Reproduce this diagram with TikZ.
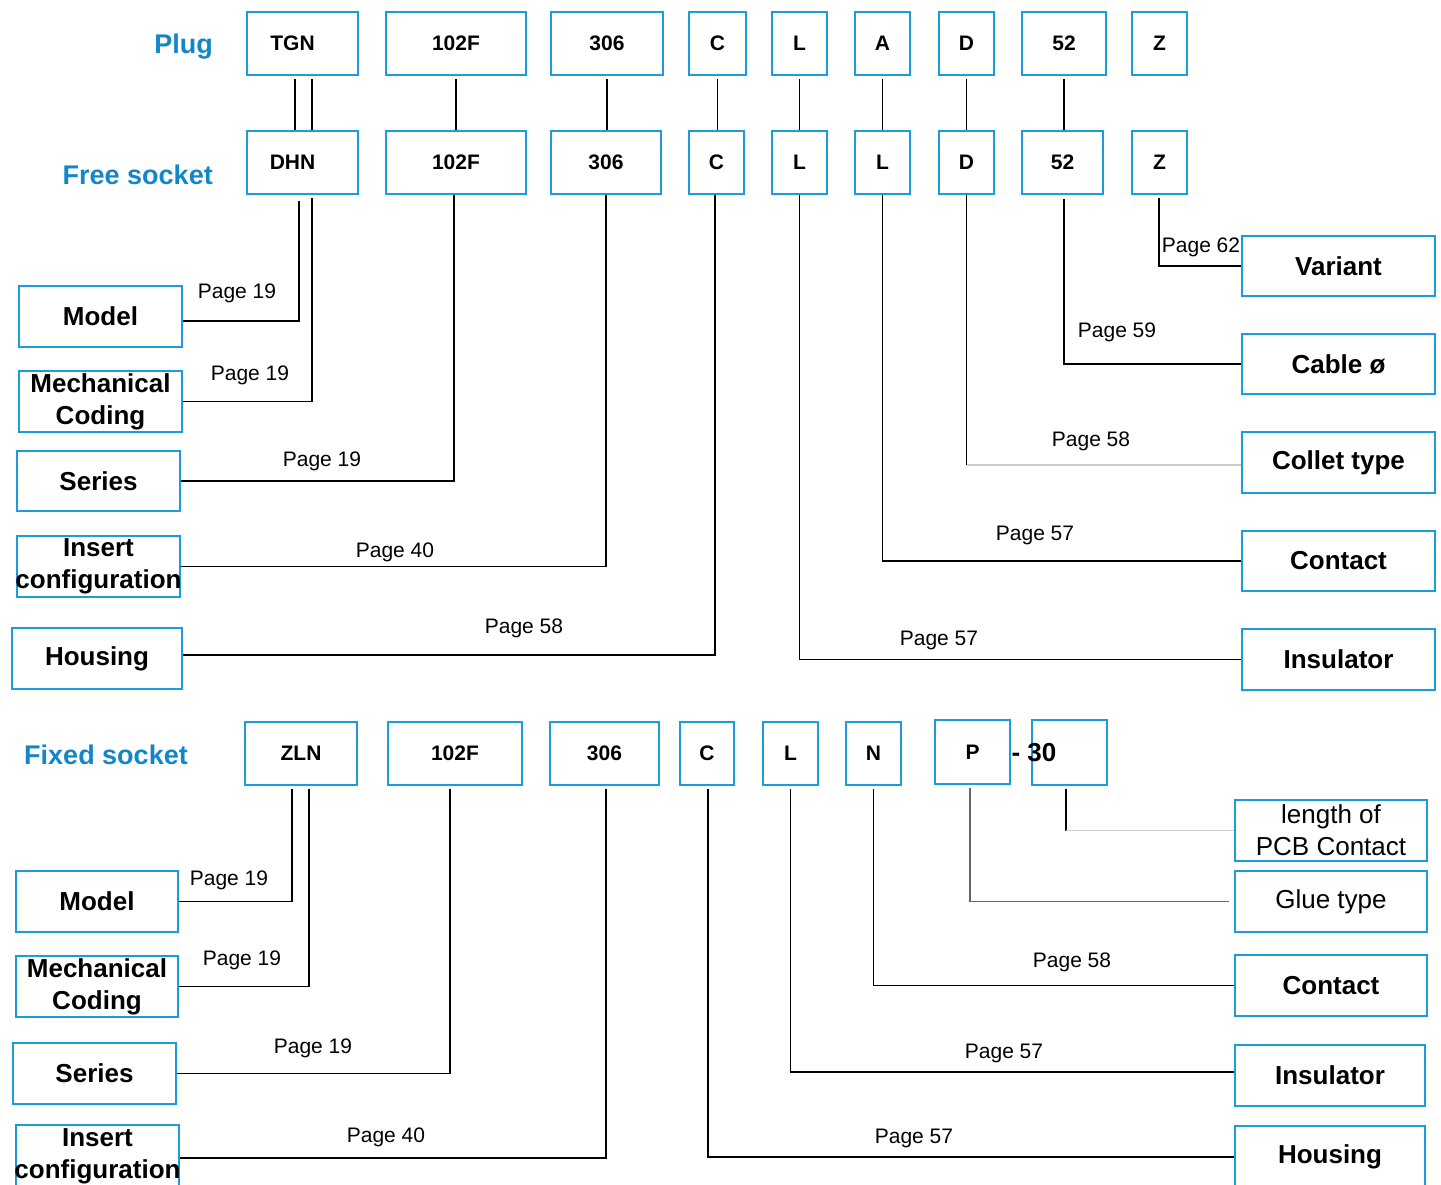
\documentclass[tikz,border=0pt]{standalone}
\usepackage{fontspec}
\setmainfont{Liberation Sans}
\definecolor{boxblue}{RGB}{30,155,224}
\definecolor{labelblue}{RGB}{18,134,200}
\begin{document}
\begin{tikzpicture}[x=1pt, y=-1pt,
    codebox/.style={draw=boxblue, line width=2pt, inner sep=0pt, font=\bfseries\fontsize{21}{25}\selectfont},
    namebox/.style={draw=boxblue, line width=1.6pt, inner sep=0pt, align=center, font=\bfseries\fontsize{26}{32}\selectfont},
    thinbox/.style={namebox, font=\fontsize{26}{32}\selectfont},
    rowlabel/.style={anchor=east, inner sep=0pt, text=labelblue, font=\bfseries\fontsize{27}{32}\selectfont},
    page/.style={inner sep=0pt, font=\fontsize{21}{25}\selectfont},
    link/.style={line width=1.3pt},
    faint/.style={line width=1.6pt, black!20},
    greyline/.style={line width=1.3pt, black!60}]
\useasboundingbox (0,0) rectangle (1441,1184);
\clip (0,0) rectangle (1441,1184);

% row titles
\node[rowlabel] (plug) at (213,47) {Plug};
\node[rowlabel] (free) at (213,175) {Free socket};
\node[rowlabel] (fixed) at (188,755) {Fixed socket};

% code boxes, one row each
\foreach \nm/\xa/\xb/\txt in {TGN/247/358/{\hspace*{-20pt}TGN}, 102F/386/526/102F, 306/551/663/306, C/689/746/C, L/772/827/L,
    A/855/910/A, D/939/994/D, 52/1022/1106/52, Z/1132/1187/Z}
  \node[codebox, minimum width={\xb-\xa}, minimum height=63] (p\nm) at ({(\xa+\xb)/2},43.5) {\txt};
\foreach \nm/\xa/\xb/\txt in {DHN/247/358/{\hspace*{-20pt}DHN}, 102F/386/526/102F, 306/551/661/306, C/689/744/C, L/772/827/L,
    LL/855/910/L, D/939/994/D, 52/1022/1103/52, Z/1132/1187/Z}
  \node[codebox, minimum width={\xb-\xa}, minimum height=63] (f\nm) at ({(\xa+\xb)/2},162.5) {\txt};
\foreach \nm/\xa/\xb/\txt in {ZLN/245/357/ZLN, 102F/388/522/102F, 306/550/659/306, C/680/734/C, L/763/818/L,
    N/846/901/N}
  \node[codebox, minimum width={\xb-\xa}, minimum height=63] (x\nm) at ({(\xa+\xb)/2},753.5) {\txt};
\node[codebox, minimum width=75, minimum height=64] (xP) at (972.5,752) {P};
\node[codebox, minimum width=75, minimum height=65] (x30) at (1069.5,752.5) {};
\node[inner sep=0pt, font=\bfseries\fontsize{26}{30}\selectfont] (t30) at (1034,753) {- 30};

% description boxes
\node[namebox, minimum width=163, minimum height=61] (lModel) at (100.5,316.5) {Model};
\node[namebox, minimum width=163, minimum height=61] (lMech) at (100.5,401.5) {Mechanical\\Coding};
\node[namebox, minimum width=163, minimum height=60] (lSeries) at (98.5,481) {Series};
\node[namebox, minimum width=163, minimum height=61] (lInsert) at (98.5,566.5) {Insert\\\makebox[0pt]{configuration}};
\node[namebox, minimum width=170, minimum height=61] (lHousing) at (97,658.5) {Housing};

\node[namebox, minimum width=193, minimum height=60] (rVariant) at (1338.5,266) {Variant};
\node[namebox, minimum width=193, minimum height=60] (rCable) at (1338.5,364) {Cable ø};
\node[namebox, minimum width=193, minimum height=61] (rCollet) at (1338.5,462.5) {Collet type};
\node[namebox, minimum width=193, minimum height=60] (rContact) at (1338.5,561) {Contact};
\node[namebox, minimum width=193, minimum height=61] (rInsulator) at (1338.5,659.5) {Insulator};

\node[namebox, minimum width=162, minimum height=61] (bModel) at (97,901.5) {Model};
\node[namebox, minimum width=162, minimum height=61] (bMech) at (97,986.5) {Mechanical\\Coding};
\node[namebox, minimum width=163, minimum height=61] (bSeries) at (94.5,1073.5) {Series};
\node[namebox, minimum width=163, minimum height=63] (bInsert) at (97.5,1156.5) {Insert\\\makebox[0pt]{configuration}};

\node[thinbox, minimum width=192, minimum height=61] (sLength) at (1331,830.5) {length of\\PCB Contact};
\node[thinbox, minimum width=192, minimum height=61] (sGlue) at (1331,901.5) {Glue type};
\node[namebox, minimum width=192, minimum height=61] (sContact) at (1331,985.5) {Contact};
\node[namebox, minimum width=190, minimum height=61] (sInsulator) at (1330,1075.5) {Insulator};
\node[namebox, minimum width=190, minimum height=62] (sHousing) at (1330,1157) {Housing};

% plug to free socket
\draw[link] ([xshift=-7.5pt,yshift=-3pt]pTGN.south) -- ([xshift=-7.5pt]pTGN.south |- fDHN.north);
\draw[link] ([xshift=9.5pt,yshift=-3pt]pTGN.south) -- ([xshift=9.5pt]pTGN.south |- fDHN.north);
\foreach \a/\b in {102F/102F, 306/306, C/C, L/L, A/LL, D/D, 52/52}
  \draw[link] ([yshift=-3pt]p\a.south) -- (p\a.south |- f\b.north);

% free socket to descriptions
\draw[link] ([xshift=-3.5pt,yshift=-6pt]fDHN.south) |- ([yshift=-4.5pt]lModel.east);
\draw[link] ([xshift=9.5pt,yshift=-3pt]fDHN.south) |- (lMech.east);
\draw[link] ([xshift=-2pt]f102F.south) |- (lSeries.east);
\draw[link] (f306.south) |- (lInsert.east);
\draw[link] ([xshift=-1.5pt]fC.south) |- ([yshift=3.5pt]lHousing.east);
\draw[link] (fL.south) |- (rInsulator.west);
\draw[link] (fLL.south) |- (rContact.west);
\draw[link] (fD.south) -- ([yshift=-2.5pt]fD.south |- rCollet.west) coordinate (kD);
\draw[faint] (kD) -- ([yshift=-2.5pt]rCollet.west);
\draw[link] ([xshift=1.5pt,yshift=-4pt]f52.south) |- (rCable.west);
\draw[link] ([xshift=-0.5pt,yshift=-3pt]fZ.south) |- (rVariant.west);

% fixed socket to descriptions
\draw[link] ([xshift=-9pt,yshift=-3pt]xZLN.south) |- (bModel.east);
\draw[link] ([xshift=8pt,yshift=-3pt]xZLN.south) |- (bMech.east);
\draw[link] ([xshift=-5pt,yshift=-3pt]x102F.south) |- (bSeries.east);
\draw[link] ([xshift=1.5pt,yshift=-3pt]x306.south) |- ([yshift=-1.5pt]bInsert.east);
\draw[link] ([xshift=1pt,yshift=-3pt]xC.south) |- (sHousing.west);
\draw[link] ([yshift=-3pt]xL.south) |- ([yshift=3.5pt]sInsulator.west);
\draw[link] ([yshift=-3pt]xN.south) |- (sContact.west);
\draw[greyline] ([xshift=-2.5pt,yshift=-3pt]xP.south) |- ([xshift=-5pt]sGlue.west);
\draw[link] ([xshift=-3.5pt,yshift=-3pt]x30.south) -- ([xshift=-3.5pt]x30.south |- sLength.west) coordinate (k30);
\draw[faint] (k30) -- (sLength.west);

% page references
\node[page] (pgModel) at (237,293) {Page 19};
\node[page] (pgMech) at (250,375) {Page 19};
\node[page] (pgSeries) at (322,461) {Page 19};
\node[page] (pgInsert) at (395,552) {Page 40};
\node[page] (pgHousing) at (524,628) {Page 58};
\node[page] (pgInsulator) at (939,640) {Page 57};
\node[page] (pgContact) at (1035,535) {Page 57};
\node[page] (pgCollet) at (1091,441) {Page 58};
\node[page] (pgCable) at (1117,332) {Page 59};
\node[page] (pgVariant) at (1201,247) {Page 62};
\node[page] (pgbModel) at (229,880) {Page 19};
\node[page] (pgbMech) at (242,960) {Page 19};
\node[page] (pgbSeries) at (313,1048) {Page 19};
\node[page] (pgbInsert) at (386,1137) {Page 40};
\node[page] (pgbHousing) at (914,1138) {Page 57};
\node[page] (pgbInsulator) at (1004,1053) {Page 57};
\node[page] (pgbContact) at (1072,962) {Page 58};
\end{tikzpicture}
\end{document}
